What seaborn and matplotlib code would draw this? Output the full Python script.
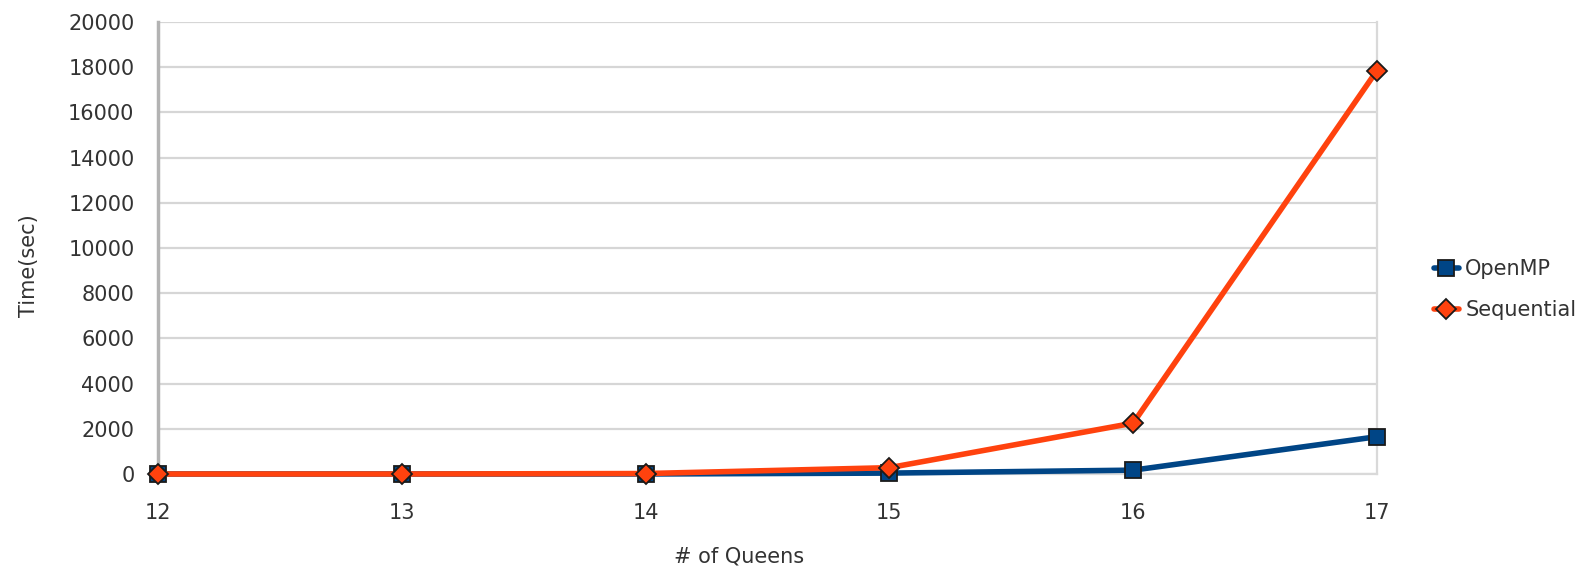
import matplotlib
matplotlib.use("Agg")
import matplotlib.pyplot as plt
import seaborn as sns
import pandas as pd

queens = [12, 13, 14, 15, 16, 17]
openmp = [0, 0, 0, 40, 170, 1650]
sequential = [0, 0, 20, 280, 2250, 17850]
yticks = list(range(0, 20001, 2000))

df = pd.DataFrame({
    "n": queens * 2,
    "time": openmp + sequential,
    "series": ["OpenMP"] * len(queens) + ["Sequential"] * len(queens),
})

sns.set_theme(style="white")
plt.rcParams["font.family"] = ["DejaVu Sans"]

fig = plt.figure(figsize=(15.76, 5.68), dpi=100)
ax = fig.add_axes([0.1003, 0.1655, 0.7734, 0.7958])

palette = {"OpenMP": "#004586", "Sequential": "#ff420e"}
sns.lineplot(data=df, x="n", y="time", hue="series", style="series",
             markers={"OpenMP": "s", "Sequential": "D"}, dashes=False,
             palette=palette, linewidth=4.0, markersize=12,
             markeredgecolor="#1a1a1a", markeredgewidth=1.3, ax=ax, zorder=3)
for ln in ax.lines:
    ln.set_clip_on(False)
    if ln.get_marker() == "D":
        ln.set_markersize(10.5)

ax.set_xlim(12, 17)
ax.set_ylim(0, 20000)
ax.set_xticks(queens)
ax.set_xticklabels([str(q) for q in queens])
ax.set_yticks(yticks)
ax.set_yticklabels([str(v) for v in yticks])
ax.yaxis.grid(True, color="#d6d6d6", linewidth=1.6)
ax.xaxis.grid(False)
ax.spines["top"].set_visible(False)
ax.spines["left"].set_color("#b3b3b3")
ax.spines["left"].set_linewidth(2.5)
ax.spines["right"].set_color("#d9d9d9")
ax.spines["right"].set_linewidth(1.6)
ax.spines["bottom"].set_color("#d9d9d9")
ax.spines["bottom"].set_linewidth(1.6)
ax.tick_params(axis="both", which="both", labelsize=15, colors="#333333",
               length=5, width=1.5, direction="out")
ax.tick_params(axis="x", pad=16, color="#d9d9d9")
ax.tick_params(axis="y", pad=12, color="#d9d9d9")
for lab in ax.get_xticklabels() + ax.get_yticklabels():
    lab.set_color("#333333")

ax.set_xlabel("# of Queens", fontsize=15, color="#333333")
ax.xaxis.set_label_coords(0.477, -0.16)
ax.set_ylabel("Time(sec)", fontsize=15, color="#333333")
ax.yaxis.set_label_coords(-0.098, 0.46)

leg = ax.legend(loc="center left", bbox_to_anchor=(0.898, 0.49),
                bbox_transform=fig.transFigure, frameon=False, fontsize=15,
                handlelength=1.2, handletextpad=0.3, labelspacing=1.0)
for t in leg.get_texts():
    t.set_color("#333333")

fig.savefig("out.png", dpi=100)
